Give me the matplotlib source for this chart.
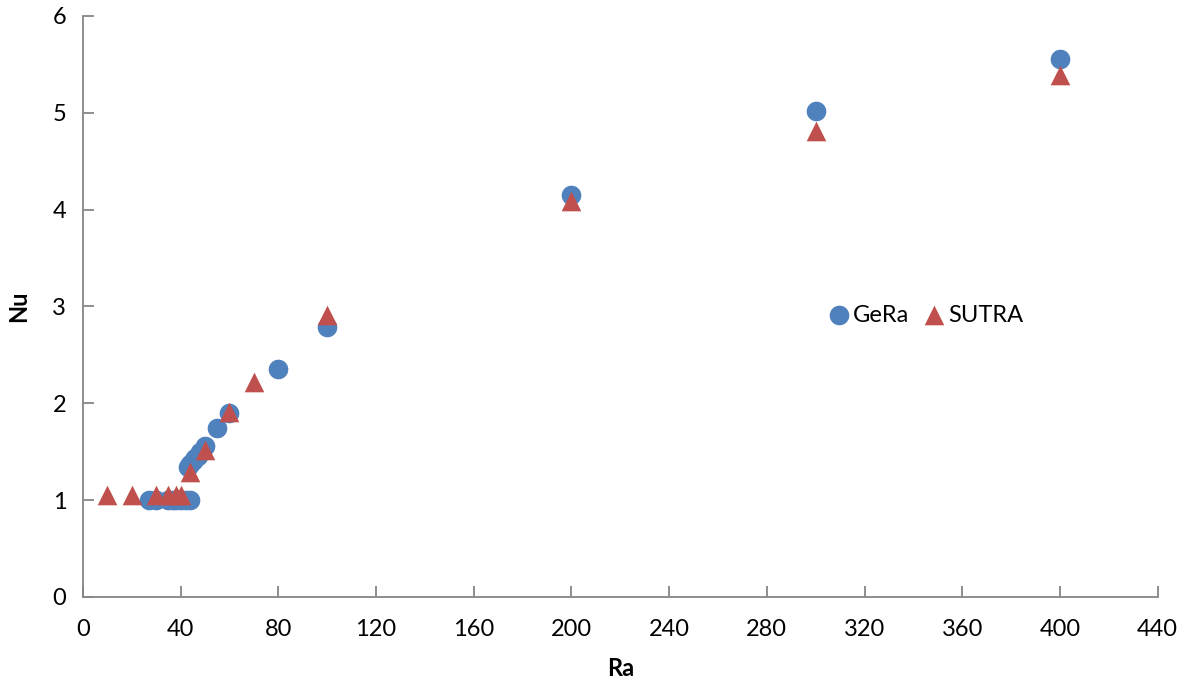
import matplotlib
matplotlib.use("Agg")
import matplotlib.pyplot as plt

# GeRa results
gera_ra = [27, 30, 35, 37, 38, 40, 42, 44, 43, 44, 45, 46, 47, 48, 50, 55, 60, 80, 100, 200, 300, 400]
gera_nu = [1.0, 1.0, 1.0, 1.0, 1.0, 1.0, 1.0, 1.0, 1.34, 1.37, 1.40, 1.43, 1.46, 1.50, 1.56, 1.74, 1.90, 2.35, 2.79, 4.15, 5.02, 5.56]

# SUTRA results
sutra_ra = [10, 20, 30, 35, 38, 40, 44, 50, 60, 70, 100, 200, 300, 400]
sutra_nu = [1.05, 1.05, 1.05, 1.05, 1.05, 1.05, 1.29, 1.52, 1.91, 2.22, 2.91, 4.09, 4.81, 5.39]

x_ticks = list(range(0, 441, 40))
y_ticks = list(range(0, 7))

plt.rcParams['font.family'] = ['Lato', 'DejaVu Sans']

fig = plt.figure(figsize=(11.8, 6.83), dpi=100)
ax = fig.add_axes([0.0703, 0.126, 0.9107, 0.8506])

ax.scatter(gera_ra, gera_nu, s=200, marker='o', color='#4F81BD', label='GeRa', zorder=3, linewidths=0)
ax.scatter(sutra_ra, sutra_nu, s=200, marker='^', color='#C0504D', label='SUTRA', zorder=4, linewidths=0)

ax.set_xlim(0, 440)
ax.set_ylim(0, 6)
ax.set_xticks(x_ticks)
ax.set_yticks(y_ticks)

for side in ('top', 'right'):
    ax.spines[side].set_visible(False)
for side in ('left', 'bottom'):
    ax.spines[side].set_color('#868686')
    ax.spines[side].set_linewidth(1.3)

ax.tick_params(axis='both', direction='in', length=8, width=1.3, color='#868686',
               labelsize=17, labelcolor='black')
ax.tick_params(axis='x', pad=16)
ax.tick_params(axis='y', pad=12)

ax.set_xlabel('Ra', fontsize=17, fontweight='bold', labelpad=12)
ax.set_ylabel('Nu', fontsize=17, fontweight='bold', labelpad=16)

ax.legend(loc='center', bbox_to_anchor=(0.778, 0.485), ncol=2, frameon=False,
          fontsize=17, handletextpad=-0.4, columnspacing=0.05, markerscale=1.0)

fig.savefig('out.png', dpi=100)
